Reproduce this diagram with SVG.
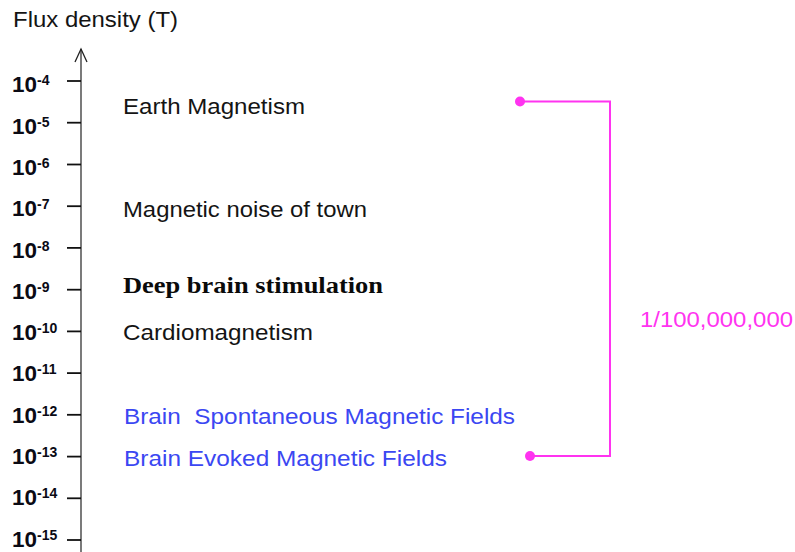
<svg xmlns="http://www.w3.org/2000/svg" width="795" height="552" viewBox="0 0 795 552">
<style>
.lbl{font-family:"Liberation Sans",Arial,sans-serif;font-size:22.5px;fill:#141414}
.blue{fill:#3b47f2}
.ax{font-family:"Liberation Sans",Arial,sans-serif;font-weight:bold;fill:#0a0a14}
.b10{font-size:22px}
.sup{font-size:14px}
.tick{stroke:#111;stroke-width:1.8}
.mag{stroke:#ff33f0;stroke-width:2;fill:none}
</style>
<rect width="795" height="552" fill="#fff"/>
<g id="axis">
<text class="lbl" x="13" y="27" textLength="165" lengthAdjust="spacingAndGlyphs">Flux density (T)</text>
<line x1="81" y1="49" x2="81" y2="552" stroke="#333" stroke-width="1.3"/>
<polyline points="75,62 81,49 87,62" fill="none" stroke="#222" stroke-width="1.3"/>
<g class="tick">
<line x1="67" y1="81" x2="81" y2="81"/>
<line x1="67" y1="122.7" x2="81" y2="122.7"/>
<line x1="67" y1="164.5" x2="81" y2="164.5"/>
<line x1="67" y1="206.2" x2="81" y2="206.2"/>
<line x1="67" y1="247.9" x2="81" y2="247.9"/>
<line x1="67" y1="289.7" x2="81" y2="289.7"/>
<line x1="67" y1="331.4" x2="81" y2="331.4"/>
<line x1="67" y1="373.1" x2="81" y2="373.1"/>
<line x1="67" y1="414.8" x2="81" y2="414.8"/>
<line x1="67" y1="456.6" x2="81" y2="456.6"/>
<line x1="67" y1="498.3" x2="81" y2="498.3"/>
<line x1="67" y1="540" x2="81" y2="540"/>
</g>
<g class="ax">
<text x="12" y="92"><tspan class="b10" textLength="25" lengthAdjust="spacingAndGlyphs">10</tspan><tspan class="sup" dy="-7">-4</tspan></text>
<text x="12" y="133.5"><tspan class="b10" textLength="25" lengthAdjust="spacingAndGlyphs">10</tspan><tspan class="sup" dy="-7">-5</tspan></text>
<text x="12" y="175"><tspan class="b10" textLength="25" lengthAdjust="spacingAndGlyphs">10</tspan><tspan class="sup" dy="-7">-6</tspan></text>
<text x="12" y="216"><tspan class="b10" textLength="25" lengthAdjust="spacingAndGlyphs">10</tspan><tspan class="sup" dy="-7">-7</tspan></text>
<text x="12" y="257.5"><tspan class="b10" textLength="25" lengthAdjust="spacingAndGlyphs">10</tspan><tspan class="sup" dy="-7">-8</tspan></text>
<text x="12" y="298.5"><tspan class="b10" textLength="25" lengthAdjust="spacingAndGlyphs">10</tspan><tspan class="sup" dy="-7">-9</tspan></text>
<text x="12" y="340"><tspan class="b10" textLength="25" lengthAdjust="spacingAndGlyphs">10</tspan><tspan class="sup" dy="-7">-10</tspan></text>
<text x="12" y="381"><tspan class="b10" textLength="25" lengthAdjust="spacingAndGlyphs">10</tspan><tspan class="sup" dy="-7">-11</tspan></text>
<text x="12" y="422.5"><tspan class="b10" textLength="25" lengthAdjust="spacingAndGlyphs">10</tspan><tspan class="sup" dy="-7">-12</tspan></text>
<text x="12" y="464"><tspan class="b10" textLength="25" lengthAdjust="spacingAndGlyphs">10</tspan><tspan class="sup" dy="-7">-13</tspan></text>
<text x="12" y="505"><tspan class="b10" textLength="25" lengthAdjust="spacingAndGlyphs">10</tspan><tspan class="sup" dy="-7">-14</tspan></text>
<text x="12" y="546.5"><tspan class="b10" textLength="25" lengthAdjust="spacingAndGlyphs">10</tspan><tspan class="sup" dy="-7">-15</tspan></text>
</g>
</g>
<g id="earth"><text class="lbl" x="123" y="114" textLength="182" lengthAdjust="spacingAndGlyphs">Earth Magnetism</text></g>
<g id="town"><text class="lbl" x="123" y="217" textLength="244" lengthAdjust="spacingAndGlyphs">Magnetic noise of town</text></g>
<g id="dbs"><text x="123" y="293" textLength="260" lengthAdjust="spacingAndGlyphs" style="font-family:'Liberation Serif','Times New Roman',serif;font-weight:bold;font-size:23.5px;fill:#0a0a0a">Deep brain stimulation</text></g>
<g id="cardio"><text class="lbl" x="123" y="340" textLength="190" lengthAdjust="spacingAndGlyphs">Cardiomagnetism</text></g>
<g id="spont"><text class="lbl blue" x="124" y="424" textLength="391" lengthAdjust="spacingAndGlyphs" xml:space="preserve">Brain  Spontaneous Magnetic Fields</text></g>
<g id="evoked"><text class="lbl blue" x="124" y="466" textLength="323" lengthAdjust="spacingAndGlyphs">Brain Evoked Magnetic Fields</text></g>
<g id="ratio"><text class="lbl" x="640" y="327" textLength="153" lengthAdjust="spacingAndGlyphs" style="fill:#ff33f0;font-size:21.5px">1/100,000,000</text></g>
<g id="connectors">
<polyline class="mag" points="520,101.5 610,101.5 610,456 530,456"/>
<circle cx="520" cy="101.5" r="5" fill="#ff33f0"/>
<circle cx="530" cy="456" r="5" fill="#ff33f0"/>
</g>
</svg>
